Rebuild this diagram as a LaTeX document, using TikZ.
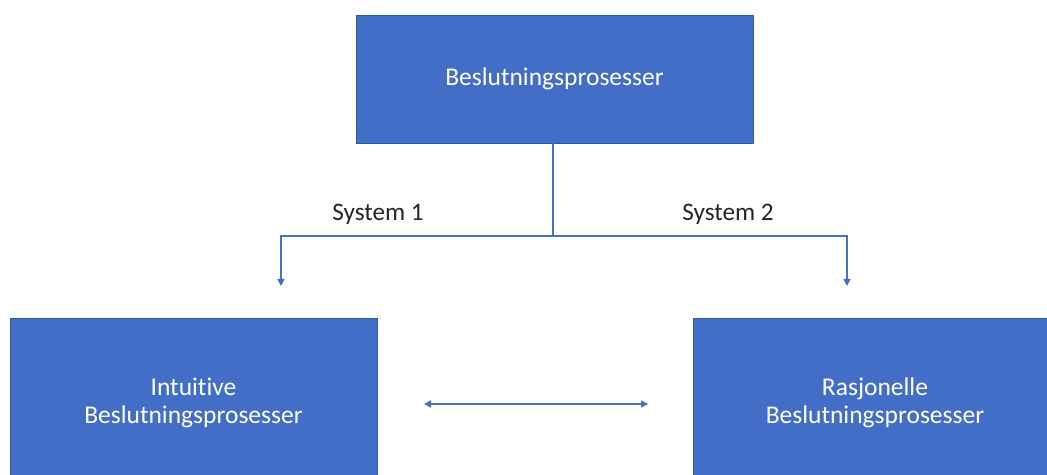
\documentclass[tikz,border=0pt]{standalone}
\usepackage{fontspec}
\setmainfont{Carlito}[Ligatures=NoCommon]
\usetikzlibrary{arrows.meta}
\definecolor{boxblue}{RGB}{66,110,200}
\definecolor{edgeblue}{RGB}{50,88,160}
\definecolor{lineblue}{RGB}{68,114,196}
\tikzset{
  blockbox/.style={draw=edgeblue, line width=0.8bp, fill=boxblue, text=white, align=center,
    inner sep=0pt, font=\fontsize{25.6}{28}\selectfont},
  conn/.style={draw=lineblue, line width=1.3bp},
  arr/.style={conn, -{Triangle[length=7bp,width=7bp]}},
  darr/.style={conn, {Triangle[length=7bp,width=7bp]}-{Triangle[length=7bp,width=7bp]}},
  syslabel/.style={text=black!85, font=\fontsize{25.3}{28}\selectfont, inner sep=0pt}
}
\begin{document}
\begin{tikzpicture}[x=1bp,y=-1bp]
\useasboundingbox (0,0) rectangle (1047,475);
\clip (0,0) rectangle (1047,475);
\fill[white] (0,0) rectangle (1047,475);
\node[blockbox, minimum width=397bp, minimum height=128bp] (top) at (554.5,79) {Beslutningsprosesser};
\node[blockbox, minimum width=367bp, minimum height=170bp] (left) at (193.5,403) {Intuitive\\Beslutningsprosesser};
\node[blockbox, minimum width=364bp, minimum height=170bp] (right) at (875,403) {Rasjonelle\\Beslutningsprosesser};
\coordinate (j) at (553,236);
\coordinate (al) at (281,286);
\coordinate (ar) at (847,286);
\coordinate (d1) at (424,404);
\coordinate (d2) at (648,404);
\draw[conn] (top.south -| j) -- (j);
\draw[arr] (j) -| (al);
\draw[arr] (j) -| (ar);
\draw[darr] (d1) -- (d2);
\node[syslabel] (s1) at (378,214) {System 1};
\node[syslabel] (s2) at (728,214) {System 2};
\end{tikzpicture}
\end{document}
